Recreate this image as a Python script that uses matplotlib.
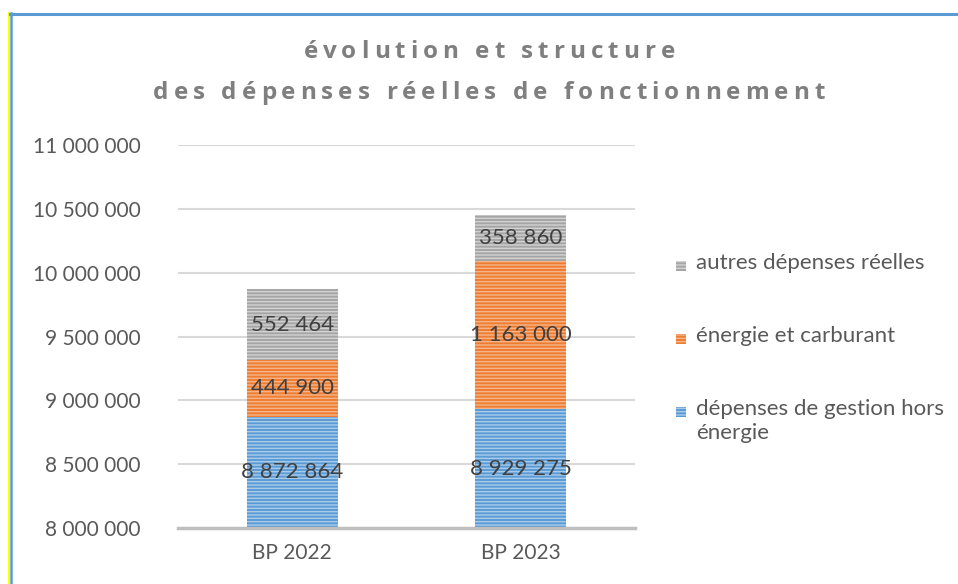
import matplotlib.pyplot as plt
from matplotlib.lines import Line2D
from matplotlib.patches import Rectangle
from matplotlib.font_manager import FontProperties

categories = ["BP 2022", "BP 2023"]
gestion = [8872864, 8929275]
energie = [444900, 1163000]
autres = [552464, 358860]
series_labels = ["dépenses de gestion hors\nénergie", "énergie et carburant", "autres dépenses réelles"]
yticks = [8000000, 8500000, 9000000, 9500000, 10000000, 10500000, 11000000]
title_lines = ["évolution et structure", "des dépenses réelles de fonctionnement"]

fills = ["#5B9BD5", "#ED7D31", "#A5A5A5"]
stripes = ["#A9CBEA", "#F6B48A", "#D2D2D2"]


def fmt(v):
    return f"{v:,}".replace(",", " ")


plt.rcParams["hatch.linewidth"] = 1.0
plt.rcParams["font.family"] = ["Lato", "DejaVu Sans"]

W, H = 958, 584
fig = plt.figure(figsize=(W / 100, H / 100), dpi=100)
ax = fig.add_axes([0.1858, 0.0959, 0.477, 0.6558])

base = 8000000
x = list(range(len(categories)))
starts = [base] * len(categories)
for k, (vals, fc, hc) in enumerate(zip([gestion, energie, autres], fills, stripes)):
    heights = [v - base for v in vals] if k == 0 else list(vals)
    ax.bar(x, heights, width=0.4, bottom=starts, color=fc,
           edgecolor=hc, linewidth=0, hatch="-----", zorder=3)
    for i, v in enumerate(vals):
        ax.text(i, starts[i] + heights[i] / 2, fmt(v), ha="center", va="center",
                fontsize=16, color="#404040", zorder=4)
    starts = [s + h for s, h in zip(starts, heights)]

ax.set_ylim(8000000, 11000000)
ax.set_xlim(-0.5, 1.5)
ax.set_yticks(yticks)
ax.set_yticklabels([fmt(t) for t in yticks])
ax.set_xticks(x)
ax.set_xticklabels(categories)
ax.tick_params(axis="both", length=0, labelsize=15, colors="#595959")
ax.tick_params(axis="y", pad=27)
ax.tick_params(axis="x", pad=11)
ax.yaxis.grid(True, color="#D9D9D9", linewidth=1.5, zorder=0)
ax.set_axisbelow(True)
for s in ["top", "right", "left"]:
    ax.spines[s].set_visible(False)
ax.spines["bottom"].set_color("#BFBFBF")
ax.spines["bottom"].set_linewidth(2.5)
ax.spines["bottom"].set_zorder(5)

# legend, top item first, marker aligned with first text line
leg_y = [266, 339, 412]
for (lab, fc, hc), yc in zip(list(zip(series_labels, fills, stripes))[::-1], leg_y):
    fig.add_artist(Rectangle((676 / W, 1 - (yc + 5) / H), 10 / W, 10 / H,
                             facecolor=fc, edgecolor=hc, linewidth=0, hatch="-----",
                             transform=fig.transFigure))
    fig.text(696 / W, 1 - (yc - 13) / H, lab, fontsize=16, color="#595959",
             ha="left", va="top", linespacing=1.25)

# title with letter spacing
tprop = FontProperties(family=["Open Sans", "DejaVu Sans"], weight="bold", size=17.5)
renderer = fig.canvas.get_renderer()
spacing = 5.0


def tw(s):
    if not s:
        return 0.0
    return renderer.get_text_width_height_descent(s, tprop, ismath=False)[0]


for line, yc in zip(title_lines, [52, 93]):
    total = tw(line) + spacing * (len(line) - 1)
    x0 = 489 - total / 2
    for i, ch in enumerate(line):
        xp = x0 + tw(line[:i]) + spacing * i
        fig.text(xp / W, 1 - yc / H, ch, fontproperties=tprop, color="#7F7F7F",
                 ha="left", va="center")

# chart frame
fig.add_artist(Line2D([8.5 / W, 8.5 / W], [0, 1 - 13 / H], color="#FFFF00", linewidth=1.5))
fig.add_artist(Line2D([10.5 / W, 10.5 / W], [0, 1 - 13 / H], color="#5B9BD5", linewidth=1.8))
fig.add_artist(Line2D([10 / W, 1], [1 - 13.5 / H, 1 - 13.5 / H], color="#5B9BD5", linewidth=2.2))

fig.savefig("out.png", dpi=100)
